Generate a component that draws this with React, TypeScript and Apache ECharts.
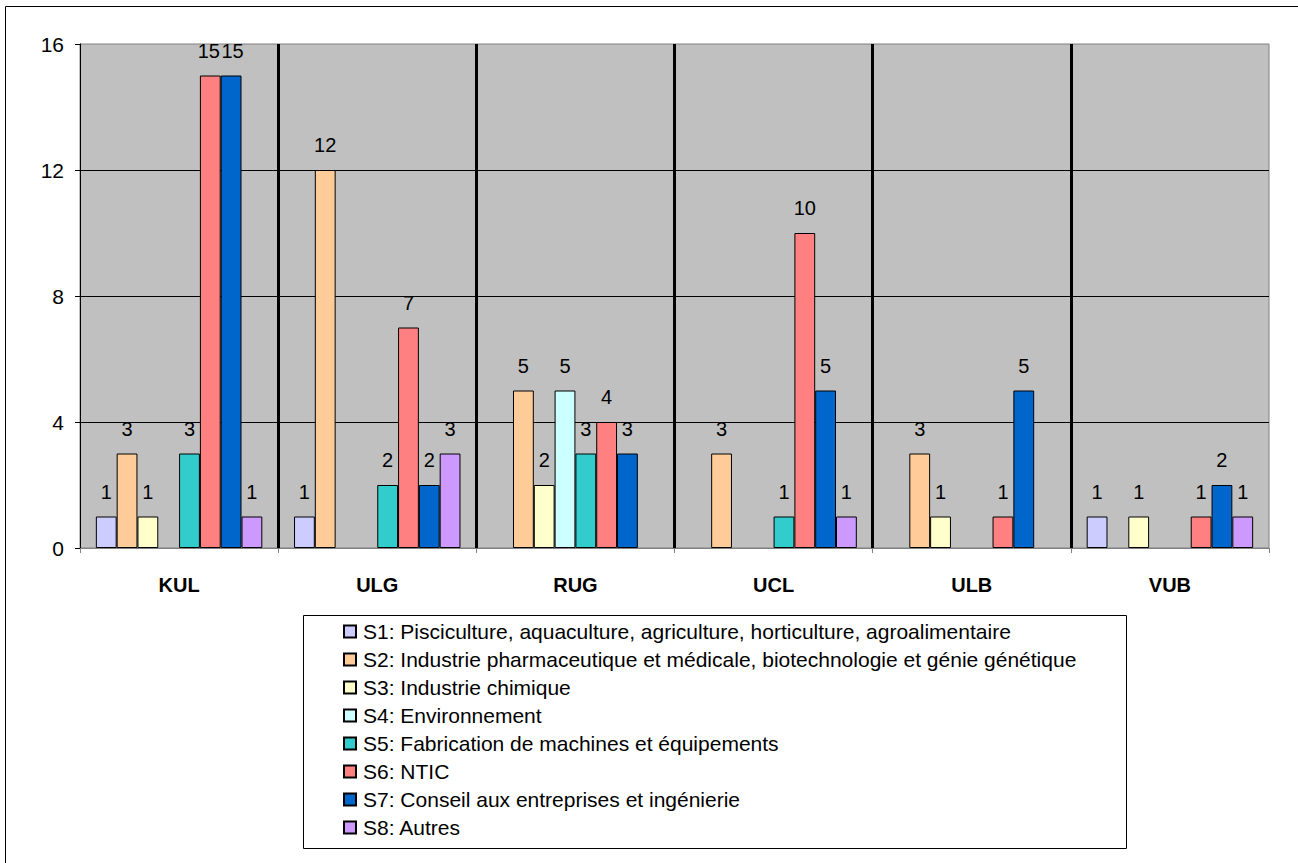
import React, { useEffect, useRef } from "react";
import * as echarts from "echarts";

const categories = ["KUL", "ULG", "RUG", "UCL", "ULB", "VUB"];
const seriesNames = [
  "S1: Pisciculture, aquaculture, agriculture, horticulture, agroalimentaire",
  "S2: Industrie pharmaceutique et médicale, biotechnologie et génie génétique",
  "S3: Industrie chimique",
  "S4: Environnement",
  "S5: Fabrication de machines et équipements",
  "S6: NTIC",
  "S7: Conseil aux entreprises et ingénierie",
  "S8: Autres",
];
const s1 = [1, 1, 0, 0, 0, 1];
const s2 = [3, 12, 5, 3, 3, 0];
const s3 = [1, 0, 2, 0, 1, 1];
const s4 = [0, 0, 5, 0, 0, 0];
const s5 = [3, 2, 3, 1, 0, 0];
const s6 = [15, 7, 4, 10, 1, 1];
const s7 = [15, 2, 3, 5, 5, 2];
const s8 = [1, 3, 0, 1, 0, 1];
const seriesValues = [s1, s2, s3, s4, s5, s6, s7, s8];
const colors = ["#CCCCFF", "#FFCC99", "#FFFFCC", "#CCFFFF", "#33CCCC", "#FF8080", "#0066CC", "#CC99FF"];
const yTicks = [0, 4, 8, 12, 16];

const FONT = "Liberation Sans";

export default function App() {
  const ref = useRef<HTMLDivElement>(null);
  useEffect(() => {
    if (!ref.current) return;
    const chart = echarts.init(ref.current, undefined, { renderer: "svg" });
    const option: any = {
      animation: false,
      backgroundColor: "#ffffff",
      textStyle: { fontFamily: FONT },
      grid: {
        left: 80,
        right: 29,
        top: 44,
        bottom: 315,
        show: true,
        backgroundColor: "#C0C0C0",
        borderColor: "#808080",
        borderWidth: 1,
      },
      xAxis: {
        type: "category",
        data: categories,
        axisLine: { show: true, lineStyle: { color: "#808080", width: 1 } },
        axisTick: { show: true, length: 5, lineStyle: { color: "#808080" } },
        axisLabel: { fontSize: 20, fontWeight: "bold", color: "#000", margin: 27, fontFamily: FONT },
        splitLine: {
          show: true,
          showMinLine: false,
          showMaxLine: false,
          lineStyle: { color: "#000", width: 3 },
        },
      },
      yAxis: {
        type: "value",
        min: yTicks[0],
        max: yTicks[yTicks.length - 1],
        interval: 4,
        axisLine: { show: true, lineStyle: { color: "#000", width: 1 } },
        axisTick: { show: true, length: 5, lineStyle: { color: "#000" } },
        axisLabel: { fontSize: 21, color: "#000", margin: 16, fontFamily: FONT },
        splitLine: {
          show: true,
          showMinLine: false,
          showMaxLine: false,
          lineStyle: { color: "#000", width: 1 },
        },
      },
      legend: {
        orient: "vertical",
        left: 343,
        top: 621,
        itemWidth: 12,
        itemHeight: 12,
        itemGap: 7,
        padding: 0,
        icon: "rect",
        textStyle: { fontSize: 21, lineHeight: 21, color: "#000", fontFamily: FONT, padding: [0, 0, 0, 2] },
        data: seriesNames,
      },
      graphic: [
        {
          type: "rect",
          shape: { x: 5.5, y: 6.5, width: 1400, height: 1000 },
          style: { fill: "none", stroke: "#000", lineWidth: 1 },
          silent: true,
          z: -10,
        },
        {
          type: "rect",
          shape: { x: 303.5, y: 615.5, width: 823, height: 233 },
          style: { fill: "none", stroke: "#000", lineWidth: 1 },
          silent: true,
        },
      ],
      series: seriesNames.map((name, i) => ({
        name,
        type: "bar",
        barGap: "0%",
        barCategoryGap: "16%",
        data: seriesValues[i].map((v, j) => {
          if (v === 0) return "-";
          // nudge the two adjacent "15" labels of KUL apart so they touch but don't overlap
          if (j === 0 && (i === 5 || i === 6)) {
            return { value: v, label: { offset: [i === 5 ? -1.5 : 1.5, 0] } };
          }
          return v;
        }),
        itemStyle: { color: colors[i], borderColor: "#000", borderWidth: 1 },
        label: {
          show: true,
          position: "top",
          distance: 15,
          fontSize: 20,
          color: "#000",
          fontFamily: FONT,
          formatter: (p: any) => (p.value ? String(p.value) : ""),
        },
      })),
    };
    chart.setOption(option);
    return () => chart.dispose();
  }, []);
  return (
    <div
      ref={ref}
      style={{ position: "fixed", left: 0, top: 0, width: 1298, height: 863 }}
    />
  );
}
